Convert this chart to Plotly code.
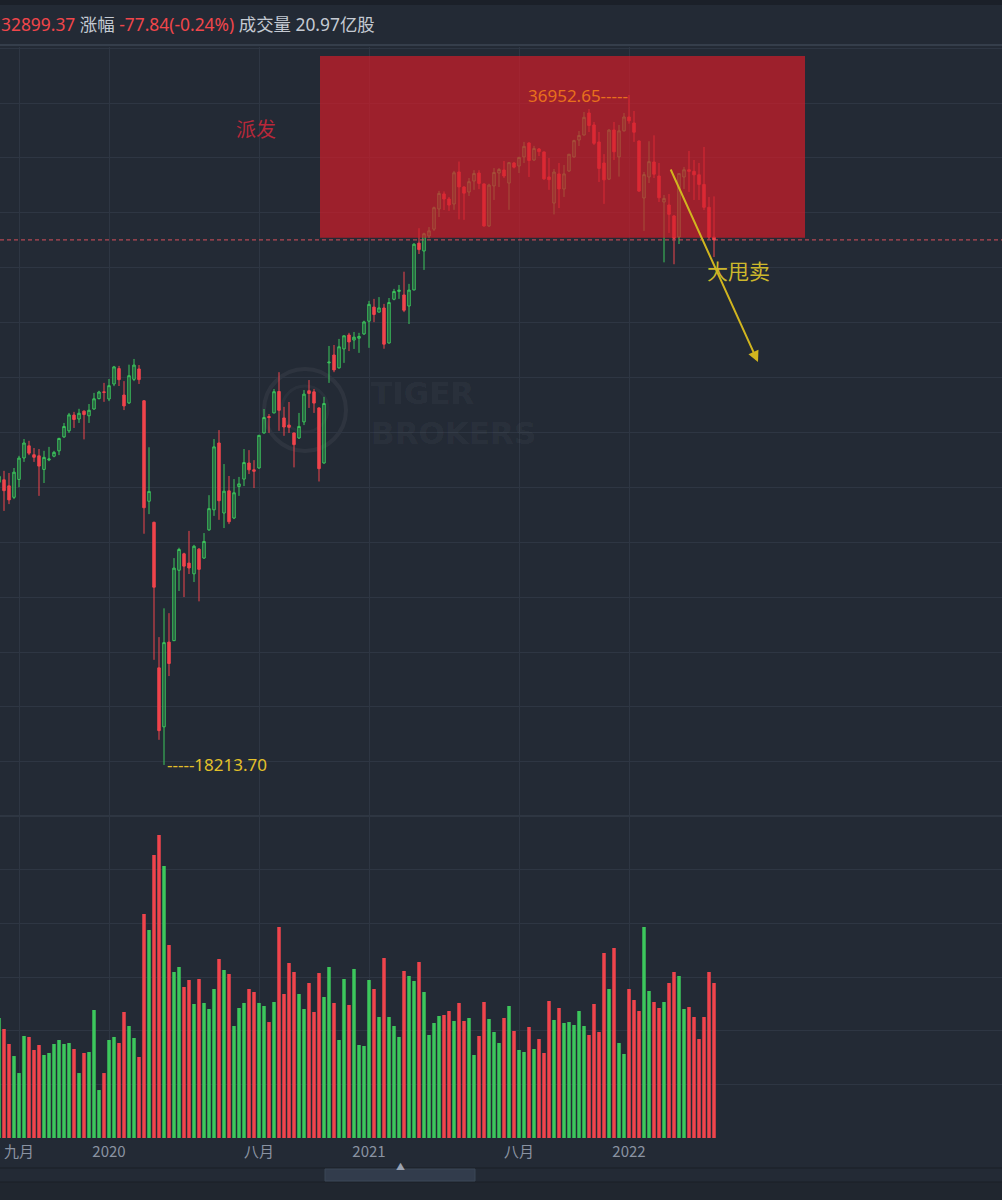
import pandas as pd
import plotly.graph_objects as go

# ---------------- data (weekly DJIA) ----------------
weeks = pd.date_range("2019-08-05", periods=144, freq="W-MON")

open_ = [26120, 26190, 26020, 25700, 26200, 26800, 27140, 26890, 26860, 26480,
         26745, 26850, 27000, 27390, 27560, 28000, 27890, 28110, 27980, 28170,
         28460, 28650, 28450, 28870, 29300, 28560, 28340, 29000, 29290, 28400,
         25590, 25000, 20930, 19280, 21650, 21690, 23660, 24120, 23860, 23560,
         24250, 24000, 24790, 25350, 27220, 25260, 25880, 25120, 26000, 26210,
         26660, 26470, 26520, 27500, 27960, 28060, 28660, 27920, 27720, 27500,
         27360, 27810, 28680, 28650, 28200, 26660, 29460, 29680, 29320, 29850,
         30240, 30100, 30150, 30270, 30627, 31020, 30880, 30995, 30016, 31240,
         31460, 31360, 31050, 31500, 32810, 32590, 33010, 33200, 33765, 34185,
         34044, 33904, 34800, 34380, 34240, 34547, 34770, 34465, 33290, 34410,
         34770, 34855, 34490, 35051, 34967, 35220, 35611, 35135, 35443, 35360,
         34660, 33930, 34745, 34324, 34827, 35220, 35694, 35834, 36449, 36114,
         35639, 35050, 34600, 35974, 35220, 35950, 36338, 36170, 35666, 34072,
         34660, 35079, 34687, 33960, 33876, 33569, 32980, 34659, 34862, 34818,
         34721, 34451, 33811, 32977.21]
high = [26380, 26440, 26380, 26520, 26860, 27330, 27280, 27080, 27050, 27000,
        27110, 27000, 27365, 27780, 28060, 28090, 28175, 28130, 28310, 28620,
        28680, 28900, 29010, 29375, 29375, 28950, 29410, 29570, 29400, 28420,
        27100, 25020, 21790, 22595, 22460, 24000, 24290, 24150, 24760, 24370,
        24280, 24700, 25760, 27330, 27580, 26630, 26296, 26210, 26270, 27050,
        27020, 26740, 27445, 28170, 28030, 28730, 29199, 28230, 28366, 27510,
        28060, 28700, 28980, 28730, 28220, 28510, 29933, 29960, 30130, 30220,
        30300, 30325, 30300, 30640, 31193, 31250, 31300, 31110, 31275, 31530,
        31640, 32010, 31670, 32810, 33227, 33100, 33260, 33830, 34270, 34256,
        34100, 34830, 35091, 34400, 34630, 34850, 34850, 34480, 34470, 34910,
        34911, 35107, 35080, 35080, 35220, 35640, 35630, 35530, 35470, 35370,
        35190, 34883, 35050, 34995, 35303, 35700, 35946, 36477, 36561, 36198,
        35918, 35300, 36000, 36198, 36114, 36450, 36952.65, 36505, 35680, 34800,
        35660, 35824, 35051, 34156, 34184, 33597, 34771, 34940, 35387, 35135,
        35051, 35499, 34100, 34117]
low = [25700, 25320, 25510, 25650, 25980, 26690, 26880, 26690, 25740, 26100,
       26710, 26820, 26880, 27360, 27500, 27640, 27780, 27320, 27780, 28150,
       28440, 28370, 28390, 28810, 28813, 28140, 28310, 28950, 28870, 24681,
       25230, 21154, 18917, 18213.70, 20700, 21680, 23080, 22910, 23555, 23330,
       22790, 23980, 24760, 25180, 25070, 24840, 24950, 25090, 25740, 26015,
       26350, 25960, 26500, 27480, 27500, 28050, 27560, 27420, 27500, 26537,
       27330, 27720, 28200, 28060, 26143, 26640, 28900, 29200, 29300, 29460,
       29790, 29850, 29740, 30240, 29881, 30600, 30870, 29856, 30000, 31210,
       31250, 30880, 30547, 31490, 32505, 32060, 32950, 33150, 33540, 33736,
       33710, 33740, 33474, 33460, 34128, 34300, 34320, 33271, 33260, 34016,
       34380, 34630, 33741, 34900, 34770, 35050, 34660, 35105, 35247, 34580,
       34300, 33613, 33790, 34100, 34800, 35200, 35527, 35820, 35918, 35554,
       34520, 33907, 34580, 35135, 34670, 35930, 36150, 35640, 34240, 33150,
       34491, 34630, 33960, 32272, 33093, 32219, 32785, 34324, 34240, 34016,
       34016, 33736, 32913, 32420]
close = [26287, 25886, 25628, 26403, 26797, 27219, 26935, 26820, 26573, 26817,
         26770, 26958, 27347, 27681, 28005, 27876, 28051, 28015, 28135, 28455,
         28645, 28634, 28823, 29348, 28990, 28256, 29102, 29398, 28992, 25409,
         25864, 23185, 19174, 21636, 21052, 23719, 24242, 23775, 23724, 24331,
         23685, 24465, 25383, 27111, 25605, 25871, 25016, 25827, 26075, 26672,
         26469, 26428, 27433, 27931, 27930, 28654, 28133, 27666, 27657, 27174,
         27682, 28586, 28606, 28335, 26501, 28323, 29480, 29263, 29910, 30218,
         30046, 30179, 30199, 30606, 31097, 30814, 30997, 29983, 31148, 31458,
         31494, 30932, 31496, 32779, 32628, 33073, 33153, 33801, 34200, 34043,
         33875, 34778, 34382, 34208, 34529, 34756, 34480, 33290, 34433, 34786,
         34870, 34687, 35061, 34935, 35208, 35515, 35120, 35455, 35369, 34607,
         34584, 34798, 34326, 34746, 35295, 35677, 35820, 36328, 36100, 35601,
         34899, 34580, 35971, 35365, 35950, 36338, 36231, 35912, 34265, 34725,
         35089, 34738, 34079, 34059, 33615, 32945, 34755, 34862, 34818, 34721,
         34451, 33811, 32977.21, 32899.37]
# volume in 亿股 (100M shares)
volume = [16.24, 14.75, 12.72, 11.09, 8.79, 13.80, 13.67, 11.91, 12.58, 11.23,
          11.50, 12.72, 13.26, 12.72, 12.85, 12.04, 8.79, 11.50, 11.64, 17.32,
          6.49, 8.79, 13.26, 13.67, 12.85, 17.05, 15.15, 13.53, 10.96, 30.31,
          28.14, 38.29, 41.00, 36.80, 26.11, 22.46, 23.14, 20.43, 21.38, 18.13,
          21.51, 18.27, 17.45, 20.16, 24.22, 22.73, 22.19, 15.15, 17.59, 18.27,
          20.16, 19.75, 18.27, 17.86, 15.69, 18.40, 28.55, 19.48, 23.68, 22.46,
          19.48, 17.45, 20.97, 17.05, 22.32, 19.08, 23.14, 18.27, 13.26, 21.51,
          18.00, 22.87, 12.58, 12.45, 21.38, 20.16, 16.37, 24.35, 16.37, 15.15,
          13.67, 22.60, 21.92, 21.24, 23.81, 19.75, 13.94, 15.56, 16.51, 16.64,
          17.18, 15.83, 18.27, 15.83, 16.24, 11.23, 13.80, 18.40, 16.10, 14.34,
          12.85, 16.24, 17.86, 14.48, 11.91, 11.64, 15.02, 12.04, 13.39, 11.50,
          18.54, 15.97, 17.59, 15.56, 15.69, 15.29, 17.18, 15.15, 13.94, 18.13,
          14.34, 25.03, 20.16, 25.71, 12.85, 11.37, 20.16, 18.67, 17.18, 28.55,
          19.89, 18.40, 17.59, 18.40, 20.97, 22.46, 21.92, 17.45, 17.72, 16.37,
          13.39, 16.37, 22.46, 20.97]

tick_months = [(2019, 9, "九月"), (2020, 1, "2020"), (2020, 8, "八月"),
               (2021, 1, "2021"), (2021, 8, "八月"), (2022, 1, "2022")]

# ---------------- styling ----------------
BG = "#232a35"
GRID = "#2e3643"
GREEN = "#3cc75c"
GREEN_FILL = "rgba(40,150,75,0.30)"
RED = "#f0444c"
FONT = "Noto Sans, Noto Sans CJK SC, sans-serif"

idx = list(range(len(weeks)))
tickvals, ticktext = [], []
for (yy, mm, lab) in tick_months:
    for i, d in enumerate(weeks):
        if d.year == yy and d.month == mm:
            tickvals.append(i)
            ticktext.append(lab)
            break

vol_colors = [GREEN if c >= o else RED for o, c in zip(open_, close)]

fig = go.Figure()
fig.add_trace(go.Candlestick(
    x=idx, open=open_, high=high, low=low, close=close,
    xaxis="x", yaxis="y", whiskerwidth=0, hoverinfo="skip",
    increasing=dict(line=dict(color=GREEN, width=1), fillcolor=GREEN_FILL),
    decreasing=dict(line=dict(color=RED, width=1), fillcolor=RED),
    showlegend=False))
fig.add_trace(go.Bar(
    x=idx, y=volume, marker=dict(color=vol_colors, line=dict(width=0)),
    xaxis="x2", yaxis="y2", hoverinfo="skip", showlegend=False))

H = 1200.0
p_lo, p_hi = 16814.2, 38295.2
fig.update_layout(
    width=1002, height=1200,
    margin=dict(l=0, r=0, t=0, b=0),
    paper_bgcolor=BG, plot_bgcolor=BG,
    font=dict(family=FONT, color="#c5cad3"),
    hovermode=False, bargap=0.3, boxgap=0.3,
    xaxis=dict(domain=[0, 1], range=[0.2, 200.6], anchor="y",
               tickvals=tickvals, showticklabels=False, showgrid=True,
               gridcolor=GRID, gridwidth=1, zeroline=False, showline=False,
               rangeslider=dict(visible=False), fixedrange=True),
    xaxis2=dict(domain=[0, 1], range=[0.2, 200.6], anchor="y2", matches="x",
                tickvals=tickvals, ticktext=ticktext, showgrid=True,
                gridcolor=GRID, gridwidth=1, zeroline=False, showline=False,
                ticks="", ticklabelstandoff=3,
                tickfont=dict(size=15, color="#8a93a2",
                              family="Liberation Sans Narrow, Noto Sans CJK SC, sans-serif")),
    yaxis=dict(domain=[1 - 815 / H, 1 - 47 / H], range=[p_lo, p_hi],
               tick0=36728.9, dtick=1535.6, showticklabels=False,
               showgrid=True, gridcolor=GRID, zeroline=False, fixedrange=True),
    yaxis2=dict(domain=[1 - 1138 / H, 1 - 817 / H], range=[0, 43.43],
                tick0=0, dtick=7.252, showticklabels=False,
                showgrid=True, gridcolor=GRID, zeroline=False, fixedrange=True),
)

shapes = []
# top dark strip and header separator
shapes.append(dict(type="rect", xref="paper", yref="paper", x0=0, x1=1,
                   y0=1 - 5 / H, y1=1, fillcolor="#1b2029", line=dict(width=0)))
shapes.append(dict(type="line", xref="paper", yref="paper", x0=0, x1=1,
                   y0=1 - 45 / H, y1=1 - 45 / H, line=dict(color="#353e4b", width=2)))
# panel separator
shapes.append(dict(type="line", xref="paper", yref="paper", x0=0, x1=1,
                   y0=1 - 816 / H, y1=1 - 816 / H, line=dict(color="#3a4351", width=1)))
# bottom navigator bar
shapes.append(dict(type="rect", xref="paper", yref="paper", x0=0, x1=1,
                   y0=0, y1=1 - 1182 / H, fillcolor="#20262f", line=dict(width=0)))
shapes.append(dict(type="line", xref="paper", yref="paper", x0=0, x1=1,
                   y0=1 - 1168 / H, y1=1 - 1168 / H, line=dict(color="#1a1f27", width=1)))
shapes.append(dict(type="line", xref="paper", yref="paper", x0=0, x1=1,
                   y0=1 - 1182 / H, y1=1 - 1182 / H, line=dict(color="#1a1f27", width=1)))
shapes.append(dict(type="rect", xref="paper", yref="paper", x0=325 / 1002, x1=475 / 1002,
                   y0=1 - 1181 / H, y1=1 - 1169 / H, fillcolor="#323c4c",
                   line=dict(color="#3b4657", width=1)))
# watermark logo ring
shapes.append(dict(type="circle", xref="paper", yref="paper",
                   x0=264 / 1002, x1=346 / 1002, y0=1 - 451 / H, y1=1 - 369 / H,
                   line=dict(color="rgba(255,255,255,0.05)", width=4), layer="below"))
shapes.append(dict(type="circle", xref="paper", yref="paper",
                   x0=282 / 1002, x1=328 / 1002, y0=1 - 432 / H, y1=1 - 386 / H,
                   line=dict(color="rgba(255,255,255,0.035)", width=3), layer="below"))
# distribution zone box (translucent, over the candles)
shapes.append(dict(type="rect", xref="x", yref="y", x0=64.2, x1=161.2,
                   y0=32960, y1=38044, fillcolor="rgba(210,29,41,0.70)",
                   line=dict(width=0), layer="above"))
# last price dashed line
shapes.append(dict(type="line", xref="paper", yref="y", x0=0, x1=1,
                   y0=close[-1], y1=close[-1],
                   line=dict(color="#d9505c", width=1, dash="4px,3px"), layer="above"))
fig.update_layout(shapes=shapes)

chg = close[-1] - close[-2]
pct = chg / close[-2] * 100
header = (f"<span style='color:#f0464b'>{close[-1]:.2f}</span> "
          f"<span style='color:#c5cad3'>涨幅</span> "
          f"<span style='color:#f0464b'>{chg:.2f}({pct:.2f}%)</span> "
          f"<span style='color:#c5cad3'>成交量 {volume[-1]:.2f}亿股</span>")

imax = high.index(max(high))
imin = low.index(min(low))
ann = [
    dict(xref="paper", yref="paper", x=-0.001, y=1 - 24 / H, xanchor="left",
         yanchor="middle", text=header, showarrow=False, font=dict(size=17.4, family=FONT)),
    dict(xref="paper", yref="paper", x=369 / 1002, y=1 - 413 / H, xanchor="left",
         yanchor="middle", align="left", text="<b>TIGER<br>BROKERS</b>", showarrow=False,
         font=dict(size=31, color="rgba(255,255,255,0.05)", family="DejaVu Sans, sans-serif")),
    dict(xref="x", yref="y", x=imax + 0.2, y=max(high), xanchor="right", yanchor="middle",
         text=f"{max(high):.2f}-----", showarrow=False,
         font=dict(size=17, color="#e8701c", family=FONT)),
    dict(xref="x", yref="y", x=imin + 0.2, y=min(low), xanchor="left", yanchor="middle",
         text=f"-----{min(low):.2f}", showarrow=False,
         font=dict(size=17, color="#e3c12a", family=FONT)),
    dict(xref="x", yref="y", x=51.4, y=35974, text="派发", showarrow=False,
         font=dict(size=20, color="#b8283a", family=FONT)),
    dict(xref="x", yref="y", x=147.8, y=32030, text="大甩卖", showarrow=False,
         font=dict(size=21, color="#cdb82c", family=FONT)),
    dict(xref="x", yref="y", x=151.8, y=29485, axref="x", ayref="y",
         ax=134.2, ay=34911, text="", showarrow=True, arrowhead=2,
         arrowsize=1.1, arrowwidth=2, arrowcolor="#d1b51f"),
    dict(xref="paper", yref="paper", x=400 / 1002, y=1 - 1175 / H, text="▲",
         showarrow=False, font=dict(size=9, color="#9aa3b2")),
]
fig.update_layout(annotations=ann)

fig.write_html("out.html")
